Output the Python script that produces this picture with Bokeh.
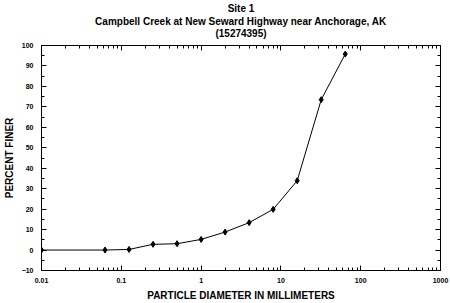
from bokeh.plotting import figure
from bokeh.models import LogAxis, LinearAxis, Title, FixedTicker, Range1d
from bokeh.embed import file_html
from bokeh.resources import INLINE

# Data
diameter_mm = [0.01, 0.0625, 0.125, 0.25, 0.5, 1, 2, 4, 8, 16, 32, 64]
percent_finer = [0, 0, 0.3, 2.8, 3.1, 5.2, 8.8, 13.4, 19.9, 33.9, 73.5, 95.8]
x_major = [0.01, 0.1, 1, 10, 100, 1000]
x_labels = {0.01: "0.01", 0.1: "0.1", 1: "1", 10: "10", 100: "100", 1000: "1000"}
y_major = list(range(-10, 101, 10))
title_lines = ["Site 1", "Campbell Creek at New Seward Highway near Anchorage, AK", "(15274395)"]

FONT = "Liberation Sans"

p = figure(width=450, height=303, x_axis_type="log",
           x_range=Range1d(0.01, 1000), y_range=Range1d(-10, 100),
           output_backend="svg", toolbar_location=None,
           min_border_left=40, min_border_right=10, min_border_top=44, min_border_bottom=31,
           background_fill_color="white", border_fill_color="white")
p.title = None
p.grid.visible = False
p.outline_line_color = "black"
p.outline_line_width = 1

x_minor = []
for d in [0.01, 0.1, 1, 10, 100]:
    for k in range(2, 10):
        x_minor.append(d * k)
y_minor = list(range(-5, 100, 10))


def style(ax, labels=True):
    ax.major_tick_in = 5
    ax.major_tick_out = 0
    ax.minor_tick_in = 3
    ax.minor_tick_out = 0
    ax.axis_line_color = "black"
    ax.major_tick_line_color = "black"
    ax.minor_tick_line_color = "black"
    ax.major_label_text_font = FONT
    ax.major_label_text_font_style = "bold"
    ax.major_label_text_font_size = "7px" if labels else "1px"
    ax.major_label_text_color = "black" if labels else None
    ax.axis_label_text_font = FONT
    ax.axis_label_text_font_style = "bold"
    ax.axis_label_text_font_size = "10px"
    ax.axis_label_text_color = "black"
    if not labels:
        ax.major_label_standoff = 0


xt = FixedTicker(ticks=x_major, minor_ticks=x_minor)
yt = FixedTicker(ticks=y_major, minor_ticks=y_minor)

xb = p.xaxis[0]
xb.ticker = xt
xb.major_label_overrides = x_labels
xb.axis_label = "PARTICLE DIAMETER IN MILLIMETERS"
style(xb)
xb.major_label_standoff = 7
xb.axis_label_standoff = 4

yl = p.yaxis[0]
yl.ticker = yt
yl.axis_label = "PERCENT FINER"
style(yl)
yl.major_label_standoff = 8
yl.axis_label_standoff = 4

xa = LogAxis(ticker=FixedTicker(ticks=x_major, minor_ticks=x_minor))
style(xa, labels=False)
xa.axis_label = "_"
xa.axis_label_text_font_size = "1px"
xa.axis_label_text_color = None
xa.axis_label_standoff = 4
p.add_layout(xa, "above")

yr = LinearAxis(ticker=FixedTicker(ticks=y_major, minor_ticks=y_minor))
style(yr, labels=False)
p.add_layout(yr, "right")

standoffs = [-2, 0, 0]
for i, line in enumerate(reversed(title_lines)):
    p.add_layout(Title(text=line, align="center", text_font=FONT, text_font_size="10px",
                       text_font_style="bold", text_color="black",
                       standoff=standoffs[i], offset=-15), "above")

p.line(diameter_mm, percent_finer, line_color="black", line_width=1)
p.scatter(diameter_mm, percent_finer, marker="diamond", size=6,
          fill_color="black", line_color="black")

open("out.html", "w").write(file_html(p, INLINE))
